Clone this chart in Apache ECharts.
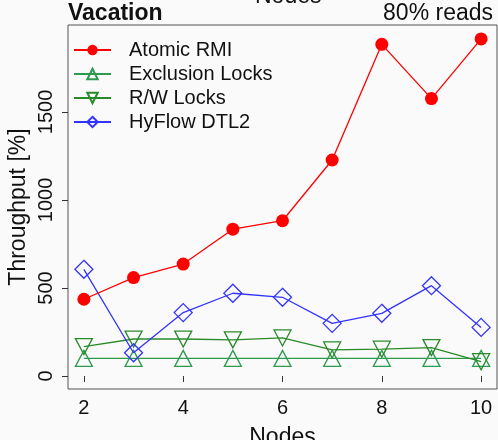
<!DOCTYPE html>
<html><head><meta charset="utf-8">
<script src="https://cdn.jsdelivr.net/npm/echarts@6/dist/echarts.min.js"></script>
<style>html,body{margin:0;padding:0;background:#fafafa}#c{width:498px;height:440px}</style>
</head><body><div id="c"></div>
<script>
var nodes = [2, 3, 4, 5, 6, 7, 8, 9, 10];
var atomicRMI = [436, 559, 636, 834, 882, 1227, 1884, 1576, 1915];
var exclusionLocks = [100, 100, 100, 100, 100, 100, 100, 100, 100];
var rwLocks = [167, 210, 210, 205, 216, 148, 152, 161, 81];
var hyflow = [606, 132, 360, 470, 447, 299, 356, 513, 276];
var xTicks = [2, 4, 6, 8, 10];
var yTicks = [0, 500, 1000, 1500];
var font = 'Liberation Sans, Arial, sans-serif';

function pairs(v){ return nodes.map(function(n,i){ return [n, v[i]]; }); }

var chart = echarts.init(document.getElementById('c'), null, {renderer:'canvas'});
chart.setOption({
  backgroundColor: '#fafafa',
  animation: false,
  title: [
    {text: 'Vacation', left: 63, top: -3, textStyle:{fontFamily: font, fontSize: 23, fontWeight: 'bold', color:'#111'}},
    {text: '80% reads', right: 0, top: -3, textStyle:{fontFamily: font, fontSize: 23, fontWeight: 'normal', color:'#111'}},
    {text: 'Nodes', left: 250, top: -20, textStyle:{fontFamily: font, fontSize: 23, fontWeight: 'normal', color:'#111'}}
  ],
  grid: {left: 68, right: 1, top: 25, bottom: 51, show: true, borderColor: '#555', borderWidth: 1,
         backgroundColor: 'transparent', containLabel: false, outerBoundsMode: 'none'},
  legend: {
    orient: 'vertical', left: 73, top: 40, padding: 0, itemGap: 4,
    itemWidth: 37, itemHeight: 13,
    textStyle: {fontFamily: font, fontSize: 20, color: '#111', padding: [0,0,0,13]},
    data: ['Atomic RMI', 'Exclusion Locks', 'R/W Locks', 'HyFlow DTL2']
  },
  xAxis: {
    type: 'value', min: 1.68, max: 10.32,
    name: 'Nodes', nameLocation: 'middle', nameGap: 37, nameMoveOverlap: false,
    nameTextStyle: {fontFamily: font, fontSize: 23, color: '#111'},
    axisLine: {show: false},
    axisTick: {show: true, length: 6, customValues: xTicks, lineStyle:{color:'#333'}},
    axisLabel: {customValues: xTicks, margin: 9, fontFamily: font, fontSize: 20, color: '#111',
                formatter: function(v){ return String(v); }},
    splitLine: {show: false}
  },
  yAxis: {
    type: 'value', min: -74, max: 1994,
    name: 'Throughput [%]', nameLocation: 'middle', nameGap: 38, nameRotate: 90, nameMoveOverlap: false,
    nameTextStyle: {fontFamily: font, fontSize: 23, color: '#111'},
    axisLine: {show: false},
    axisTick: {show: true, length: 6, customValues: yTicks, lineStyle:{color:'#333'}},
    axisLabel: {customValues: yTicks, rotate: 90, margin: 12, fontFamily: font, fontSize: 20, color: '#111',
                formatter: function(v){ return String(v); }},
    splitLine: {show: false}
  },
  series: [
    {name: 'Atomic RMI', type: 'line', data: pairs(atomicRMI), symbol: 'circle', symbolSize: 13,
     lineStyle: {color: '#ff0000', width: 1.3}, itemStyle: {color: '#ff0000'}, z: 5},
    {name: 'Exclusion Locks', type: 'line', data: pairs(exclusionLocks), symbol: 'triangle', symbolSize: [17, 16],
     lineStyle: {color: '#2e9a50', width: 1.3}, itemStyle: {color: 'rgba(0,0,0,0)', borderColor: '#2e9a50', borderWidth: 1.3}, z: 3},
    {name: 'R/W Locks', type: 'line', data: pairs(rwLocks), symbol: 'triangle', symbolRotate: 180, symbolSize: [17, 16],
     lineStyle: {color: '#2a8a2a', width: 1.3}, itemStyle: {color: 'rgba(0,0,0,0)', borderColor: '#2a8a2a', borderWidth: 1.3}, z: 3},
    {name: 'HyFlow DTL2', type: 'line', data: pairs(hyflow), symbol: 'diamond', symbolSize: 18,
     lineStyle: {color: '#3333ff', width: 1.3}, itemStyle: {color: 'rgba(0,0,0,0)', borderColor: '#3333ff', borderWidth: 1.3}, z: 4}
  ]
});
</script></body></html>
